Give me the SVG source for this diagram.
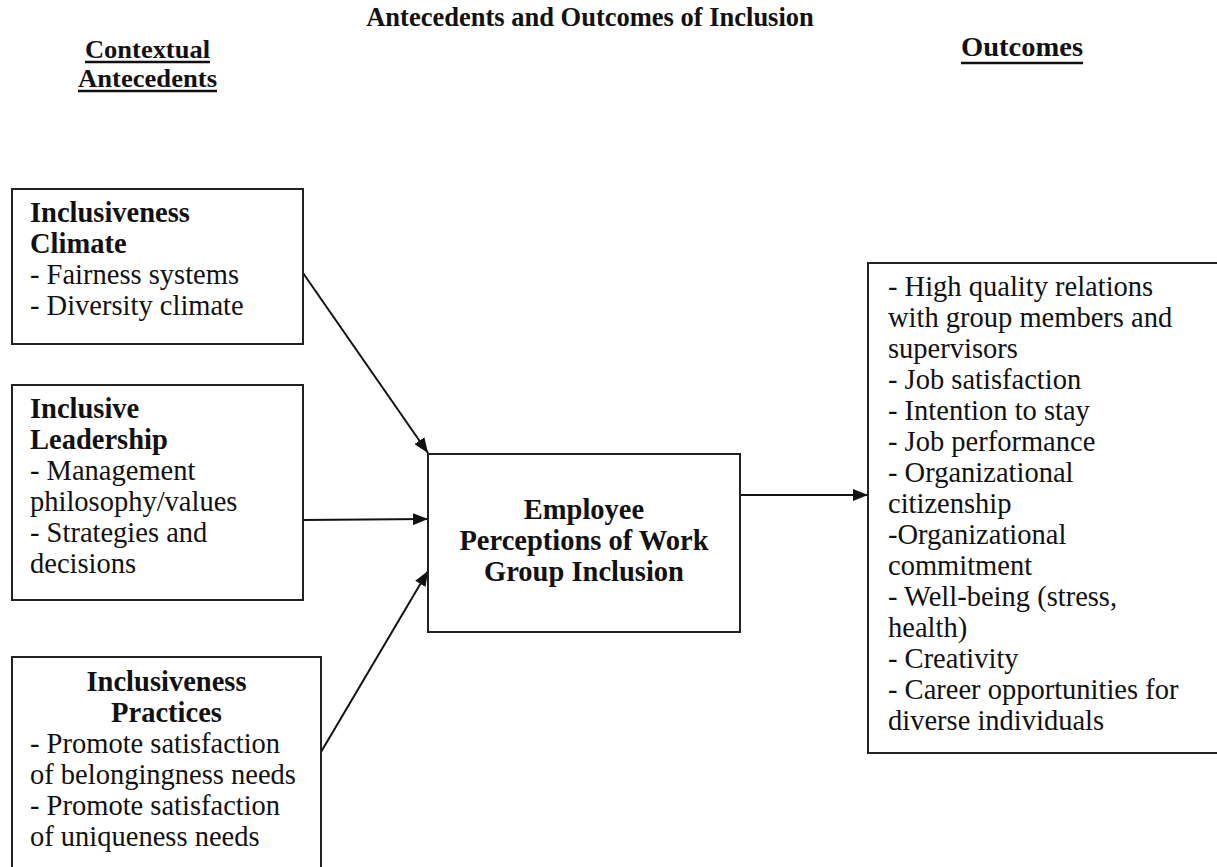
<svg xmlns="http://www.w3.org/2000/svg" width="1217" height="867" viewBox="0 0 1217 867">
  <style>
    .t { font-family: "Liberation Serif", "Times New Roman", serif; font-size: 28.5px; fill: #111; }
    .b { font-weight: bold; }
    .h { font-family: "Liberation Serif", "Times New Roman", serif; font-size: 26.5px; font-weight: bold; fill: #111; }
    .hs { font-size: 25px; }
    .box { fill: #fff; stroke: #222; stroke-width: 2; }
    .conn { stroke: #111; stroke-width: 2; fill: none; marker-end: url(#arr); }
    .ul { stroke: #111; stroke-width: 2.5; }
  </style>
  <defs>
    <marker id="arr" markerUnits="userSpaceOnUse" markerWidth="16" markerHeight="12" refX="15" refY="6" orient="auto">
      <path d="M0,0 L15,6 L0,12 z" fill="#111"/>
    </marker>
  </defs>
  <rect width="1217" height="867" fill="#fff"/>

  <g id="title">
    <text class="h" x="590" y="26" text-anchor="middle">Antecedents and Outcomes of Inclusion</text>
  </g>
  <g id="header-antecedents">
    <text class="h hs" x="85" y="58" textLength="125" lengthAdjust="spacingAndGlyphs">Contextual</text>
    <line class="ul" x1="85" y1="62" x2="210" y2="62"/>
    <text class="h hs" x="78" y="87" textLength="139" lengthAdjust="spacingAndGlyphs">Antecedents</text>
    <line class="ul" x1="78" y1="91" x2="217" y2="91"/>
  </g>
  <g id="header-outcomes">
    <text class="h" x="961" y="56" textLength="122" lengthAdjust="spacingAndGlyphs">Outcomes</text>
    <line class="ul" x1="961" y1="63" x2="1083" y2="63"/>
  </g>

  <g id="connectors">
    <line class="conn" x1="303" y1="273" x2="428" y2="453"/>
    <line class="conn" x1="303" y1="520" x2="428" y2="519"/>
    <line class="conn" x1="321" y1="752" x2="428" y2="571"/>
    <line class="conn" x1="740" y1="495" x2="868" y2="495"/>
  </g>

  <g id="node-climate">
    <rect class="box" x="12" y="189" width="291" height="155"/>
    <text class="t b" x="30" y="222">Inclusiveness</text>
    <text class="t b" x="30" y="253">Climate</text>
    <text class="t" x="30" y="284">- Fairness systems</text>
    <text class="t" x="30" y="315">- Diversity climate</text>
  </g>

  <g id="node-leadership">
    <rect class="box" x="12" y="385" width="291" height="215"/>
    <text class="t b" x="30" y="418">Inclusive</text>
    <text class="t b" x="30" y="449">Leadership</text>
    <text class="t" x="30" y="480">- Management</text>
    <text class="t" x="30" y="511">philosophy/values</text>
    <text class="t" x="30" y="542">- Strategies and</text>
    <text class="t" x="30" y="573">decisions</text>
  </g>

  <g id="node-practices">
    <rect class="box" x="12" y="657" width="309" height="230"/>
    <text class="t b" x="166.5" y="691" text-anchor="middle">Inclusiveness</text>
    <text class="t b" x="166.5" y="722" text-anchor="middle">Practices</text>
    <text class="t" x="30" y="753">- Promote satisfaction</text>
    <text class="t" x="30" y="784">of belongingness needs</text>
    <text class="t" x="30" y="815">- Promote satisfaction</text>
    <text class="t" x="30" y="846">of uniqueness needs</text>
  </g>

  <g id="node-inclusion">
    <rect class="box" x="428" y="454" width="312" height="178"/>
    <text class="t b" x="584" y="519" text-anchor="middle">Employee</text>
    <text class="t b" x="584" y="550" text-anchor="middle">Perceptions of Work</text>
    <text class="t b" x="584" y="581" text-anchor="middle">Group Inclusion</text>
  </g>

  <g id="node-outcomes">
    <rect class="box" x="868" y="263" width="360" height="490"/>
    <text class="t" x="888" y="296">- High quality relations</text>
    <text class="t" x="888" y="327">with group members and</text>
    <text class="t" x="888" y="358">supervisors</text>
    <text class="t" x="888" y="389">- Job satisfaction</text>
    <text class="t" x="888" y="420">- Intention to stay</text>
    <text class="t" x="888" y="451">- Job performance</text>
    <text class="t" x="888" y="482">- Organizational</text>
    <text class="t" x="888" y="513">citizenship</text>
    <text class="t" x="888" y="544">-Organizational</text>
    <text class="t" x="888" y="575">commitment</text>
    <text class="t" x="888" y="606">- Well-being (stress,</text>
    <text class="t" x="888" y="637">health)</text>
    <text class="t" x="888" y="668">- Creativity</text>
    <text class="t" x="888" y="699">- Career opportunities for</text>
    <text class="t" x="888" y="730">diverse individuals</text>
  </g>
</svg>
